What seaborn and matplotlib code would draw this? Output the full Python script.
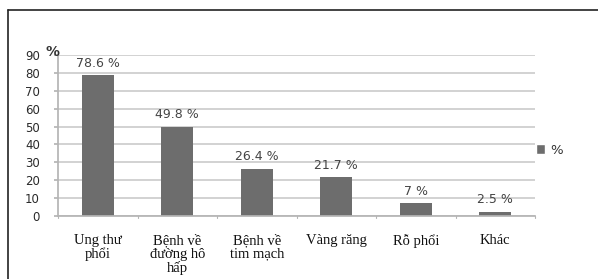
import matplotlib
matplotlib.use("Agg")
import matplotlib.pyplot as plt
import seaborn as sns
import pandas as pd
from matplotlib.lines import Line2D
from matplotlib.patches import Patch

categories = ["Ung thư\nphổi", "Bệnh về\nđường hô\nhấp", "Bệnh về\ntim mạch",
              "Vàng răng", "Rỗ phổi", "Khác"]
values = [78.6, 49.8, 26.4, 21.7, 7, 2.5]
value_labels = ["78.6 %", "49.8 %", "26.4 %", "21.7 %", "7 %", "2.5 %"]
yticks = [0, 10, 20, 30, 40, 50, 60, 70, 80, 90]

sns.set_theme(style="white")
plt.rcParams['font.family'] = ['DejaVu Sans']

df = pd.DataFrame({"cat": categories, "val": values})

fig = plt.figure(figsize=(5.98, 2.79), dpi=100)
ax = fig.add_axes([58 / 598, 1 - 216 / 279, (535 - 58) / 598, (216 - 55) / 279])

bar_color = "#6d6d6d"
sns.barplot(data=df, x="cat", y="val", color=bar_color, width=0.4, saturation=1,
            linewidth=0, ax=ax)

ax.set_ylim(0, 90)
ax.set_xlim(-0.5, len(categories) - 0.5)
ax.set_yticks(yticks)
ax.set_yticklabels([str(t) for t in yticks], fontsize=8.5, color="#2a2a2a")
ax.set_xlabel("")
ax.set_ylabel("")
ax.yaxis.grid(True, color="#d2d2d2", linewidth=1.4)
ax.set_axisbelow(True)

for s in ["top", "right"]:
    ax.spines[s].set_visible(False)
ax.spines["left"].set_color("#b5b5b5")
ax.spines["bottom"].set_color("#b5b5b5")
ax.tick_params(axis="y", left=True, length=3, color="#b5b5b5", pad=10)

# x ticks at category boundaries
ax.set_xticks(range(len(categories)))
ax.set_xticklabels(categories, fontsize=10.5, family="Liberation Serif",
                   color="#111111", linespacing=1.0)
ax.tick_params(axis="x", bottom=False, pad=7)
for b in [i + 0.5 for i in range(-1, len(categories))]:
    ax.plot([b, b], [0, -1.2], color="#b5b5b5", lw=0.8, clip_on=False)

for i, (v, lab) in enumerate(zip(values, value_labels)):
    ax.annotate(lab, xy=(i, v), xytext=(0, 4), textcoords="offset points",
                ha="center", va="bottom", fontsize=9, color="#444444")

ax.annotate("%", xy=(0, 90), xycoords=("axes fraction", "data"),
            xytext=(1, 2), textcoords="offset points", ha="right", va="center",
            fontsize=10, fontweight="bold", color="#333333")

fig.legend(handles=[Patch(facecolor=bar_color, label="%")], loc="center left",
           bbox_to_anchor=(524 / 598, 1 - 150 / 279), frameon=False,
           fontsize=9.5, handlelength=0.7, handleheight=0.7, handletextpad=0.4,
           labelcolor="#333333")

# outer frame (left and top edges)
fig.add_artist(Line2D([8 / 598, 8 / 598], [0, 1 - 10 / 279], color="#222222", lw=1.2))
fig.add_artist(Line2D([8 / 598, 1], [1 - 10 / 279, 1 - 10 / 279], color="#222222", lw=1.2))

fig.savefig("out.png", dpi=100)
